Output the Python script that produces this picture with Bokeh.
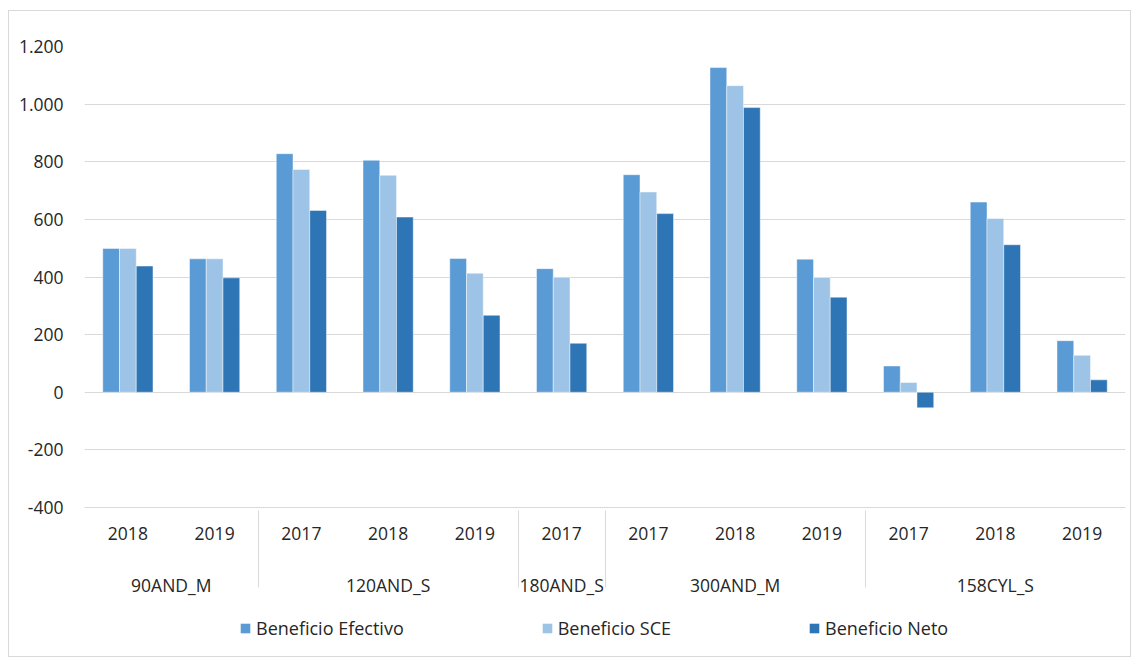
from bokeh.plotting import figure
from bokeh.layouts import column
from bokeh.models import (FactorRange, ColumnDataSource, FixedTicker, Legend, LegendItem)
from bokeh.transform import dodge
from bokeh.embed import file_html
from bokeh.resources import INLINE

# ---- data ----
groups = ["90AND_M", "90AND_M", "120AND_S", "120AND_S", "120AND_S", "180AND_S",
          "300AND_M", "300AND_M", "300AND_M", "158CYL_S", "158CYL_S", "158CYL_S"]
years = ["2018", "2019", "2017", "2018", "2019", "2017",
         "2017", "2018", "2019", "2017", "2018", "2019"]
series_names = ["Beneficio Efectivo", "Beneficio SCE", "Beneficio Neto"]
efectivo = [499, 463, 828, 805, 464, 429, 755, 1127, 462, 91, 660, 179]
sce = [499, 463, 773, 753, 413, 399, 695, 1064, 398, 34, 603, 128]
neto = [438, 397, 631, 608, 267, 170, 620, 988, 330, -54, 512, 43]
y_ticks = [-400, -200, 0, 200, 400, 600, 800, 1000, 1200]
y_tick_labels = ["-400", "-200", "0", "200", "400", "600", "800", "1.000", "1.200"]

colors = ["#5B9BD5", "#9DC3E6", "#2E75B6"]
FONT = "Open Sans"
TXT = "#262626"
GRID = "#D9D9D9"

# blank middle level only adds vertical room between the year row and the group row
factors = [(g, " ", y) for g, y in zip(groups, years)]
source = ColumnDataSource(data=dict(x=factors, efectivo=efectivo, sce=sce, neto=neto))

p = figure(width=1121, height=595, output_backend="svg", toolbar_location=None,
           x_range=FactorRange(*factors, group_padding=0, subgroup_padding=0,
                               factor_padding=0, range_padding=0),
           y_range=(y_ticks[0], y_ticks[-1]))
p.min_border_left = 75
p.min_border_right = 5
p.min_border_top = 35
p.min_border_bottom = 99
p.outline_line_color = None
p.background_fill_color = "white"
p.border_fill_color = "white"

bw = 0.193
offsets = [-bw, 0.0, bw]
fields = ["efectivo", "sce", "neto"]
for f, off, c in zip(fields, offsets, colors):
    p.vbar(x=dodge("x", off, range=p.x_range), top=f, bottom=0, width=bw,
           source=source, fill_color=c, line_color="white", line_alpha=0.45, line_width=1)

# y axis
p.yaxis.ticker = FixedTicker(ticks=y_ticks)
p.yaxis.major_label_overrides = dict(zip(y_ticks, y_tick_labels))
p.yaxis.axis_line_color = None
p.yaxis.major_tick_line_color = None
p.yaxis.minor_tick_line_color = None
p.yaxis.major_label_standoff = 15
p.yaxis.major_label_text_font = FONT
p.yaxis.major_label_text_font_size = "17.5px"
p.yaxis.major_label_text_color = TXT

p.ygrid.grid_line_color = GRID
p.ygrid.grid_line_width = 1
p.xgrid.grid_line_color = None

# x axis
xa = p.xaxis[0]
xa.axis_line_color = GRID
xa.major_tick_line_color = None
xa.minor_tick_line_color = None
xa.major_label_standoff = 13
xa.major_label_text_font = FONT
xa.major_label_text_font_size = "17.5px"
xa.major_label_text_color = TXT
xa.subgroup_text_font = FONT
xa.subgroup_text_font_size = "1px"
xa.subgroup_text_color = TXT
xa.group_text_font = FONT
xa.group_text_font_size = "17.5px"
xa.group_text_font_style = "normal"
xa.group_text_color = TXT
xa.separator_line_color = GRID
xa.separator_line_width = 1

# legend strip
lf = figure(width=1121, height=50, output_backend="svg", toolbar_location=None,
            x_range=(0, 1), y_range=(0, 1), x_axis_location=None, y_axis_location=None,
            min_border=0)
lf.outline_line_color = None
lf.grid.grid_line_color = None
lf.border_fill_color = "white"
items = []
for n, c in zip(series_names, colors):
    # zero-size placeholder glyph, only used for the legend swatch
    r = lf.vbar(x=[0], top=[0], bottom=[0], width=0, fill_color=c, line_color=None)
    items.append(LegendItem(label=n, renderers=[r]))
legend = Legend(items=items, orientation="horizontal", location=(155, 16),
                label_text_font=FONT, label_text_font_size="18px", label_text_color=TXT,
                glyph_width=12, glyph_height=12, label_standoff=5, spacing=137,
                border_line_color=None, background_fill_alpha=0, padding=4, margin=0)
lf.add_layout(legend, "center")

layout = column(p, lf, spacing=0,
                styles={"border": "1px solid #D9D9D9", "margin": "10px 0 0 8px",
                        "background-color": "white"})

open("out.html", "w").write(file_html(layout, INLINE))
